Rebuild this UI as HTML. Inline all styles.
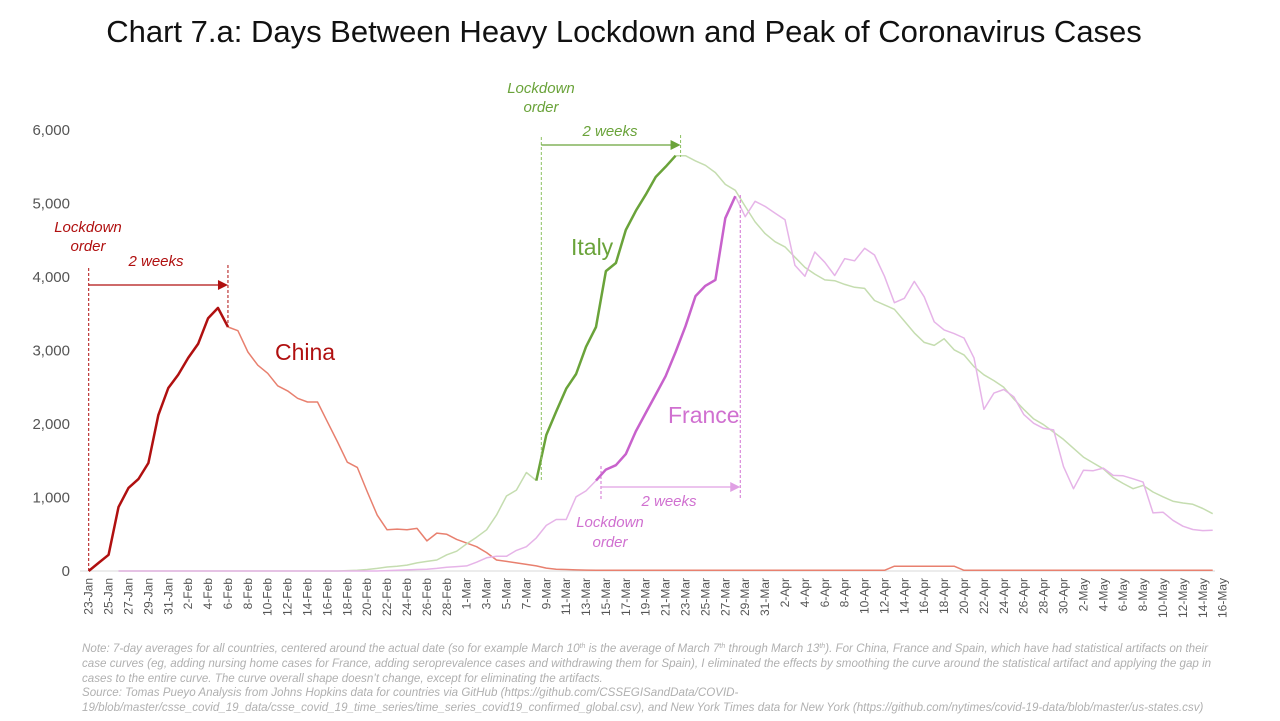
<!DOCTYPE html>
<html><head><meta charset="utf-8"><style>
body{margin:0;background:#fff;width:1280px;height:716px;overflow:hidden;font-family:"Liberation Sans",sans-serif}
svg text{font-family:"Liberation Sans",sans-serif}
</style></head><body>
<svg id="chart" width="1280" height="716" viewBox="0 0 1280 716" xmlns="http://www.w3.org/2000/svg">
<text x="624" y="42" text-anchor="middle" font-size="31" fill="#111">Chart 7.a: Days Between Heavy Lockdown and Peak of Coronavirus Cases</text>
<g id="axes"></g>
<g id="series"></g>
<g id="annotations" font-style="italic" font-size="15">
<text x="88" y="232" text-anchor="middle" fill="#b01010">Lockdown</text>
<text x="88" y="251" text-anchor="middle" fill="#b01010">order</text>
<text x="156" y="266" text-anchor="middle" fill="#b01010">2 weeks</text>
<text x="541" y="93" text-anchor="middle" fill="#6aa33a">Lockdown</text>
<text x="541" y="112" text-anchor="middle" fill="#6aa33a">order</text>
<text x="610" y="136" text-anchor="middle" fill="#6aa33a">2 weeks</text>
<text x="669" y="506" text-anchor="middle" fill="#d070d0">2 weeks</text>
<text x="610" y="527" text-anchor="middle" fill="#d070d0">Lockdown</text>
<text x="610" y="547" text-anchor="middle" fill="#d070d0">order</text>
</g>
<g font-size="23">
<text x="275" y="360" fill="#b01010">China</text>
<text x="571" y="255" fill="#6aa33a">Italy</text>
<text x="668" y="423" fill="#d070d0">France</text>
</g>
<g font-style="italic" font-size="11.6" fill="#b0b0b0">
<text x="82" y="652">Note: 7-day averages for all countries, centered around the actual date (so for example March 10<tspan font-size="7" dy="-4">th</tspan><tspan dy="4"> is the average of March 7</tspan><tspan font-size="7" dy="-4">th</tspan><tspan dy="4"> through March 13</tspan><tspan font-size="7" dy="-4">th</tspan><tspan dy="4">). For China, France and Spain, which have had statistical artifacts on their</tspan></text>
<text x="82" y="667">case curves (eg, adding nursing home cases for France, adding seroprevalence cases and withdrawing them for Spain), I eliminated the effects by smoothing the curve around the statistical artifact and applying the gap in</text>
<text x="82" y="682">cases to the entire curve. The curve overall shape doesn’t change, except for eliminating the artifacts.</text>
<text x="82" y="696">Source: Tomas Pueyo Analysis from Johns Hopkins data for countries via GitHub (https://github.com/CSSEGISandData/COVID-</text>
<text x="82" y="711">19/blob/master/csse_covid_19_data/csse_covid_19_time_series/time_series_covid19_confirmed_global.csv), and New York Times data for New York (https://github.com/nytimes/covid-19-data/blob/master/us-states.csv)</text>
</g>
</svg>
<script>
const yTicks=[0,1000,2000,3000,4000,5000,6000];
const yTickLabels=["0","1,000","2,000","3,000","4,000","5,000","6,000"];
const dayLabels=["23-Jan","25-Jan","27-Jan","29-Jan","31-Jan","2-Feb","4-Feb","6-Feb","8-Feb","10-Feb","12-Feb","14-Feb","16-Feb","18-Feb","20-Feb","22-Feb","24-Feb","26-Feb","28-Feb","1-Mar","3-Mar","5-Mar","7-Mar","9-Mar","11-Mar","13-Mar","15-Mar","17-Mar","19-Mar","21-Mar","23-Mar","25-Mar","27-Mar","29-Mar","31-Mar","2-Apr","4-Apr","6-Apr","8-Apr","10-Apr","12-Apr","14-Apr","16-Apr","18-Apr","20-Apr","22-Apr","24-Apr","26-Apr","28-Apr","30-Apr","2-May","4-May","6-May","8-May","10-May","12-May","14-May","16-May"];
// China from day 0
const china=[0,110,220,870,1130,1250,1470,2120,2490,2670,2900,3090,3440,3580,3320,3270,2980,2800,2690,2520,2450,2350,2300,2300,2030,1760,1480,1410,1080,760,560,570,560,580,410,515,500,430,380,330,250,150,130,110,90,70,40,25,20,15,12,10,10,10,10,10,10,10,10,10,10,10,10,10,10,10,10,10,10,10,10,10,10,10,10,10,10,10,10,10,10,65,65,65,65,65,65,65,10,10,10,10,10,10,10,10,10,10,10,10,10,10,10,10,10,10,10,10,10,10,10,10,10,10];
// Italy from day 3
const italy=[0,0,0,0,0,0,0,0,0,0,0,0,0,0,0,0,0,0,0,0,0,0,0,5,10,20,35,55,65,80,110,130,150,220,270,370,460,560,760,1020,1100,1340,1230,1850,2170,2480,2680,3050,3320,4080,4190,4640,4900,5120,5360,5500,5650,5650,5580,5520,5420,5260,5180,4960,4750,4590,4480,4410,4270,4130,4040,3960,3950,3900,3860,3845,3680,3620,3560,3400,3240,3110,3070,3160,3010,2940,2780,2670,2590,2500,2340,2200,2070,1990,1890,1790,1670,1550,1470,1390,1270,1190,1120,1165,1075,1010,950,925,907,850,780];
// France from day 3
const france=[0,0,0,0,0,0,0,0,0,0,0,0,0,0,0,0,0,0,0,0,0,0,0,0,0,0,0,5,10,15,20,25,35,50,60,70,120,180,200,200,280,330,450,620,700,700,1010,1090,1230,1380,1440,1590,1900,2150,2400,2650,2980,3330,3740,3880,3960,4800,5100,4820,5030,4960,4870,4780,4160,4010,4340,4200,4020,4250,4220,4390,4300,4010,3650,3710,3940,3730,3390,3280,3230,3170,2900,2200,2420,2470,2370,2130,2010,1940,1920,1420,1120,1370,1365,1400,1300,1295,1255,1210,790,800,690,610,565,550,555];
const chinaStart=0, italyStart=3, franceStart=3;
const chinaLock=0, italyLock=45, franceLock=51, lagDays=14;

const NS="http://www.w3.org/2000/svg";
const X0=88.7, DX=9.947, Y0=571, YS=73.5/1000;
const xs=d=>X0+d*DX, ys=v=>Y0-v*YS;
function mk(tag,attrs,parent){const e=document.createElementNS(NS,tag);for(const k in attrs)e.setAttribute(k,attrs[k]);parent.appendChild(e);return e;}
const axes=document.getElementById('axes'), ser=document.getElementById('series');
const base=mk('line',{x1:80,x2:1215,y1:Y0,y2:Y0,stroke:'#d8d8d8','stroke-width':1},axes);


yTicks.forEach((v,i)=>{
  const t=mk('text',{x:70,y:ys(v)+5,'text-anchor':'end','font-size':15,fill:'#555'},axes);
  t.textContent=yTickLabels[i];
  
  
});
dayLabels.forEach((lab,i)=>{
  const x=xs(i*2)+4;
  const t=mk('text',{x:0,y:0,transform:`translate(${x},578) rotate(-90)`,'text-anchor':'end','font-size':12,fill:'#555'},axes);
  t.textContent=lab;
  
  
});
function line(arr,start,from,to,color,w,name){
  const pts=[];
  for(let d=from;d<=to;d++){const i=d-start;if(i>=0&&i<arr.length)pts.push(xs(d).toFixed(1)+','+ys(arr[i]).toFixed(1));}
  const p=mk('polyline',{points:pts.join(' '),fill:'none',stroke:color,'stroke-width':w,'stroke-linejoin':'round'},ser);
  
  
}
const chEnd=chinaStart+china.length-1, itEnd=italyStart+italy.length-1, frEnd=franceStart+france.length-1;
line(china,chinaStart,chinaLock+lagDays,chEnd,'#e8806f',1.5,'china-line-after');
line(italy,italyStart,italyStart,italyLock,'#c5ddb0',1.5,'italy-line-before');
line(italy,italyStart,italyLock+lagDays,itEnd,'#c5ddb0',1.5,'italy-line-after');
line(france,franceStart,franceStart,franceLock,'#e6b4e8',1.5,'france-line-before');
line(france,franceStart,franceLock+lagDays,frEnd,'#e6b4e8',1.5,'france-line-after');
line(china,chinaStart,chinaStart,chinaLock+lagDays,'#b01010',2.5,'china-line-lockdown');
line(italy,italyStart,italyLock,italyLock+lagDays,'#6aa33a',2.5,'italy-line-lockdown');
line(france,franceStart,franceLock,franceLock+lagDays,'#c862cc',2.5,'france-line-lockdown');
function dash(x,y1,y2,c,name){const l=mk('line',{x1:x,x2:x,y1:y1,y2:y2,stroke:c,'stroke-width':1,'stroke-dasharray':'3,2'},ser);
  
  }
function arrow(x1,x2,y,c,name){const g=mk('g',{},ser);
  
  
  mk('line',{x1:x1,x2:x2-8,y1:y,y2:y,stroke:c,'stroke-width':1.3},g);
  mk('polygon',{points:`${x2},${y} ${x2-10},${y-5} ${x2-10},${y+5}`,fill:c},g);}
dash(xs(chinaLock),268,571,'#b01010','china-lockdown-marker');
dash(xs(chinaLock+lagDays),265,327,'#b01010','china-2weeks-marker');
arrow(xs(chinaLock),xs(chinaLock+lagDays),285,'#b01010','china-2weeks-arrow');
dash(xs(italyLock)+5,137,481,'#8cc060','italy-lockdown-marker');
dash(xs(italyLock+lagDays)+5,135,157,'#8cc060','italy-2weeks-marker');
arrow(xs(italyLock)+5,xs(italyLock+lagDays)+5,145,'#6aa33a','italy-2weeks-arrow');
dash(xs(franceLock)+5,466,500,'#d070d0','france-lockdown-marker');
dash(xs(franceLock+lagDays)+5,195,500,'#d070d0','france-2weeks-marker');
arrow(xs(franceLock)+5,xs(franceLock+lagDays)+5,487,'#e0a0e4','france-2weeks-arrow');
</script>
</body></html>
